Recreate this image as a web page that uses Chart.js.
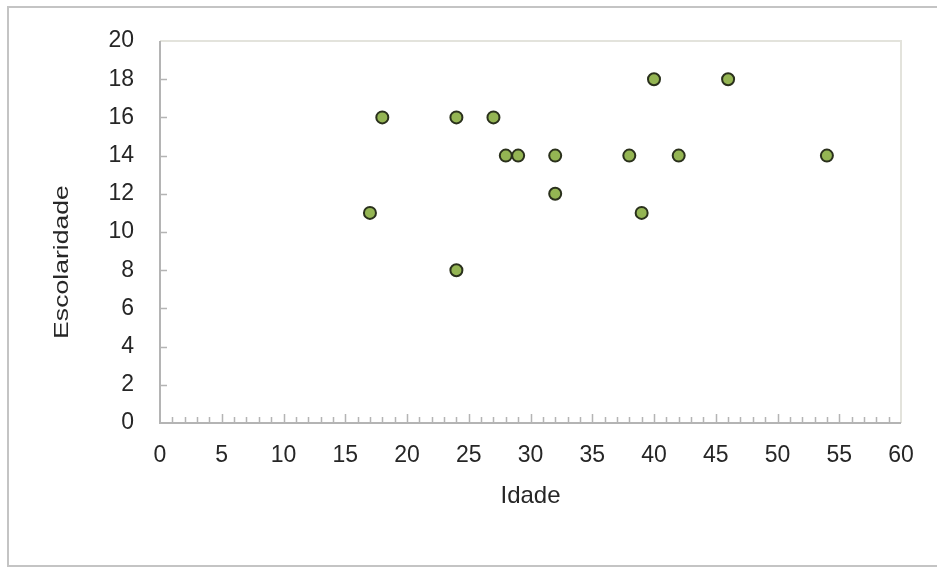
<!DOCTYPE html>
<html>
<head>
<meta charset="utf-8">
<script src="https://cdn.jsdelivr.net/npm/chart.js@4"></script>
<style>
  html, body { margin: 0; padding: 0; background: #fff; }
  canvas { display: block; }
</style>
</head>
<body>
<canvas id="scatter" width="937" height="574"></canvas>
<script>
// idade (x) e escolaridade (y)
const idade = [17, 18, 24, 24, 27, 28, 29, 32, 32, 38, 39, 40, 42, 46, 54];
const escolaridade = [11, 16, 16, 8, 16, 14, 14, 14, 12, 14, 11, 18, 14, 18, 14];
const xTicks = [0, 5, 10, 15, 20, 25, 30, 35, 40, 45, 50, 55, 60];
const yTicks = [0, 2, 4, 6, 8, 10, 12, 14, 16, 18, 20];
const yTitle = "Escolaridade";

const points = idade.map((v, i) => ({ x: v, y: escolaridade[i] }));
const fontFam = "'Liberation Sans', Arial, sans-serif";
const textColor = "#262626";

// frame + plot border + inside tick marks (like the excel chart)
const decor = {
  id: "decor",
  beforeDraw(chart) {
    const ctx = chart.ctx;
    ctx.save();
    ctx.strokeStyle = "#c4c4c4";
    ctx.lineWidth = 2;
    ctx.strokeRect(8, 7, 940, 559);
    ctx.restore();
  },
  beforeDatasetsDraw(chart) {
    const ctx = chart.ctx;
    const a = chart.chartArea;
    const xs = chart.scales.x, ys = chart.scales.y;
    ctx.save();
    // top and right edge, light
    ctx.strokeStyle = "#e3e3dc";
    ctx.lineWidth = 2;
    ctx.beginPath();
    ctx.moveTo(a.left, a.top); ctx.lineTo(a.right, a.top); ctx.lineTo(a.right, a.bottom);
    ctx.stroke();
    // left and bottom axis lines
    ctx.strokeStyle = "#b4b4b4";
    ctx.lineWidth = 2;
    ctx.beginPath();
    ctx.moveTo(a.left, a.top); ctx.lineTo(a.left, a.bottom); ctx.lineTo(a.right, a.bottom);
    ctx.stroke();
    ctx.lineWidth = 1.5;
    ctx.beginPath();
    for (let v = 1; v < 60; v++) {
      const px = Math.round(xs.getPixelForValue(v)) + 0.5;
      const len = v % 5 === 0 ? 9 : 6;
      ctx.moveTo(px, a.bottom); ctx.lineTo(px, a.bottom - len);
    }
    for (const v of yTicks) {
      if (v === 0 || v === 20) continue;
      const py = Math.round(ys.getPixelForValue(v)) + 0.5;
      ctx.moveTo(a.left, py); ctx.lineTo(a.left + 7, py);
    }
    ctx.stroke();
    ctx.restore();
  },
  afterDraw(chart) {
    // y title is stretched along its length in the original
    const ctx = chart.ctx;
    ctx.save();
    ctx.translate(62, 262);
    ctx.rotate(-Math.PI / 2);
    ctx.scale(1.33, 1);
    ctx.font = "20px " + fontFam;
    ctx.fillStyle = textColor;
    ctx.textAlign = "center";
    ctx.textBaseline = "middle";
    ctx.fillText(yTitle, 0, 0);
    ctx.restore();
  }
};

new Chart("scatter", {
  type: "scatter",
  data: {
    datasets: [{
      data: points,
      backgroundColor: "#94b553",
      borderColor: "#2a301c",
      borderWidth: 2,
      pointRadius: 6,
      pointHoverRadius: 6
    }]
  },
  options: {
    responsive: false,
    animation: false,
    layout: { padding: { left: 0, top: 41, right: 36, bottom: 51 } },
    plugins: { legend: { display: false }, tooltip: { enabled: false } },
    scales: {
      x: {
        type: "linear",
        min: 0, max: 60,
        afterBuildTicks: s => { s.ticks = xTicks.map(v => ({ value: v })); },
        afterFit: s => { s.height = 100; },
        grid: { display: false, drawTicks: false },
        border: { display: false },
        ticks: { color: textColor, padding: 19, font: { family: fontFam, size: 23 } },
        title: {
          display: true, text: "Idade", color: textColor,
          font: { family: fontFam, size: 24 },
          padding: { top: 0, bottom: 12 }
        }
      },
      y: {
        min: 0, max: 20,
        afterBuildTicks: s => { s.ticks = yTicks.map(v => ({ value: v })); },
        afterFit: s => { s.width = 160; },
        grid: { display: false, drawTicks: false },
        border: { display: false },
        ticks: { color: textColor, padding: 26, font: { family: fontFam, size: 23 } },
        title: { display: false }
      }
    }
  },
  plugins: [decor]
});
</script>
</body>
</html>
